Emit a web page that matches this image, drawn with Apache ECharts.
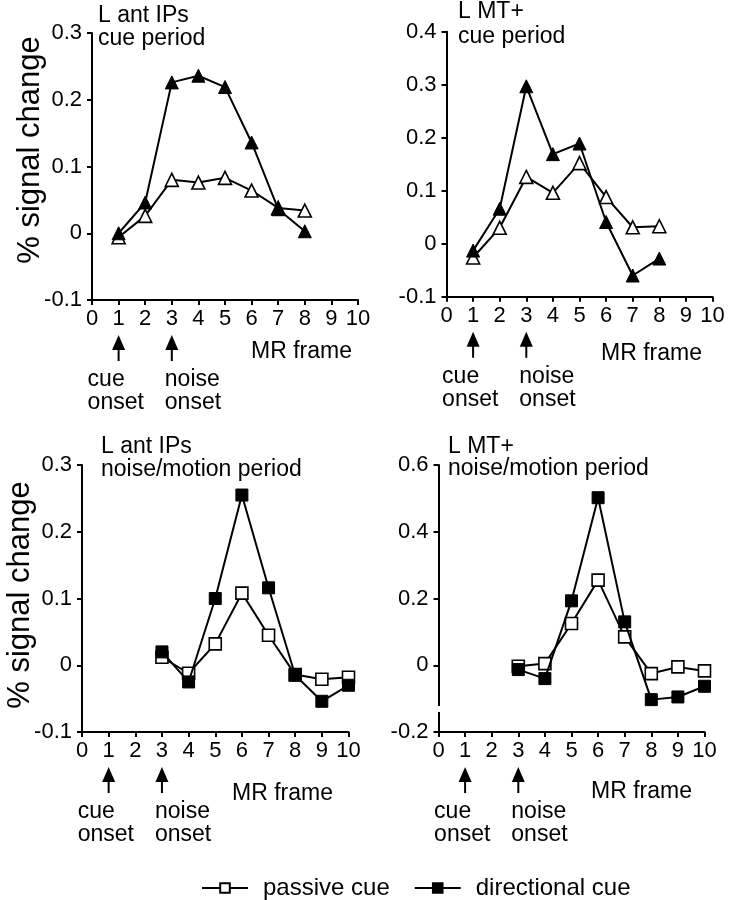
<!DOCTYPE html>
<html><head><meta charset="utf-8">
<script src="https://cdn.jsdelivr.net/npm/echarts@6/dist/echarts.min.js"></script>
<style>html,body{margin:0;padding:0;background:#fff}#c{width:730px;height:900px}</style>
</head><body><div id="c"></div>
<script>
// ---------- data ----------
const cueFrames = [1, 2, 3, 4, 5, 6, 7, 8];
const noiseFrames = [3, 4, 5, 6, 7, 8, 9, 10];
const ipsCuePassive = [-0.006, 0.026, 0.080, 0.076, 0.083, 0.064, 0.038, 0.034];
const ipsCueDirectional = [0.000, 0.046, 0.226, 0.236, 0.219, 0.136, 0.036, 0.003];
const mtCuePassive = [-0.026, 0.030, 0.126, 0.096, 0.152, 0.088, 0.031, 0.033];
const mtCueDirectional = [-0.013, 0.066, 0.297, 0.169, 0.189, 0.041, -0.060, -0.028];
const ipsNoisePassive = [0.012, -0.012, 0.032, 0.108, 0.045, -0.014, -0.021, -0.018];
const ipsNoiseDirectional = [0.020, -0.025, 0.100, 0.255, 0.116, -0.015, -0.054, -0.030];
const mtNoisePassive = [-0.003, 0.005, 0.125, 0.255, 0.085, -0.025, -0.005, -0.017];
const mtNoiseDirectional = [-0.013, -0.040, 0.193, 0.502, 0.130, -0.103, -0.095, -0.063];
const xTicks = [0, 1, 2, 3, 4, 5, 6, 7, 8, 9, 10];
const yTicksIpsCue = [-0.1, 0, 0.1, 0.2, 0.3];
const yTicksMtCue = [-0.1, 0, 0.1, 0.2, 0.3, 0.4];
const yTicksIpsNoise = [-0.1, 0, 0.1, 0.2, 0.3];
const yTicksMtNoise = [-0.2, 0, 0.2, 0.4, 0.6];
const panelTitles = [['L ant IPs', 'cue period'], ['L MT+', 'cue period'],
                     ['L ant IPs', 'noise/motion period'], ['L MT+', 'noise/motion period']];
const seriesNames = ['passive cue', 'directional cue'];
const yAxisName = '% signal change';
const xAxisName = 'MR frame';
const onsetFrames = [1, 3];
const onsetLabels = [['cue', 'onset'], ['noise', 'onset']];

// ---------- layout / style ----------
const FONT = '"Liberation Sans", Arial, Helvetica, sans-serif';
const panels = [
  {frames: cueFrames, passive: ipsCuePassive, directional: ipsCueDirectional, yTicks: yTicksIpsCue, symbol: 'triangle',
   grid: {left: 92, top: 33, width: 266, height: 267}, titleX: 98, titleY: [16, 38.5], mrRight: 352, mrDy: 52, yName: [30, 150]},
  {frames: cueFrames, passive: mtCuePassive, directional: mtCueDirectional, yTicks: yTicksMtCue, symbol: 'triangle',
   grid: {left: 446.5, top: 31.7, width: 266, height: 265}, titleX: 458, titleY: [12, 37], mrRight: 702, mrDy: 57, yName: null},
  {frames: noiseFrames, passive: ipsNoisePassive, directional: ipsNoiseDirectional, yTicks: yTicksIpsNoise, symbol: 'rect',
   grid: {left: 82, top: 465, width: 266.5, height: 267}, titleX: 101, titleY: [447, 470], mrRight: 333, mrDy: 62, yName: [20, 595]},
  {frames: noiseFrames, passive: mtNoisePassive, directional: mtNoiseDirectional, yTicks: yTicksMtNoise, symbol: 'rect',
   grid: {left: 438.5, top: 465, width: 266, height: 267}, titleX: 448, titleY: [447, 469], mrRight: 692, mrDy: 60, yName: null, axisBreak: true}
];

const grids = [], xAxes = [], yAxes = [], seriesByPanel = [];
panels.forEach((p, i) => {
  grids.push(Object.assign({containLabel: false}, p.grid));
  xAxes.push({
    type: 'value', gridIndex: i, min: xTicks[0], max: xTicks[xTicks.length - 1], interval: xTicks[1] - xTicks[0],
    axisLine: {show: true, onZero: false, lineStyle: {color: '#000', width: 2}},
    axisTick: {show: true, length: 5, lineStyle: {color: '#000', width: 2}},
    axisLabel: {color: '#000', fontSize: 22, fontFamily: FONT, margin: 8, showMinLabel: true, showMaxLabel: true},
    splitLine: {show: false}
  });
  const yt = p.yTicks;
  yAxes.push({
    type: 'value', gridIndex: i, min: yt[0], max: yt[yt.length - 1], interval: yt[1] - yt[0],
    axisLine: {show: true, onZero: false, lineStyle: {color: '#000', width: 2}},
    axisTick: {show: true, length: 5, lineStyle: {color: '#000', width: 2}},
    axisLabel: {color: '#000', fontSize: 22, fontFamily: FONT, margin: 10,
      formatter: v => { const r = Math.round(v * 10) / 10; return r === 0 ? '0' : String(r); }},
    splitLine: {show: false}
  });
  const sz = p.symbol === 'triangle' ? [13, 13] : 12;
  seriesByPanel.push([
    {name: seriesNames[0], type: 'line', xAxisIndex: i, yAxisIndex: i, z: 2,
     data: p.frames.map((f, k) => [f, p.passive[k]]),
     symbol: p.symbol, symbolSize: sz, showSymbol: true,
     lineStyle: {color: '#000', width: 2},
     itemStyle: {color: '#fff', borderColor: '#000', borderWidth: 1.6}},
    {name: seriesNames[1], type: 'line', xAxisIndex: i, yAxisIndex: i, z: 3,
     data: p.frames.map((f, k) => [f, p.directional[k]]),
     symbol: p.symbol, symbolSize: sz, showSymbol: true,
     lineStyle: {color: '#000', width: 2},
     itemStyle: {color: '#000', borderColor: '#000', borderWidth: 1}}
  ]);
});
// bottom panels first so the legend takes the square markers
const series = [].concat(seriesByPanel[2], seriesByPanel[3], seriesByPanel[0], seriesByPanel[1]);

const chart = echarts.init(document.getElementById('c'), null, {renderer: 'canvas'});
chart.setOption({
  animation: false,
  backgroundColor: '#fff',
  grid: grids, xAxis: xAxes, yAxis: yAxes, series: series,
  legend: {
    data: seriesNames, left: 196, top: 871, itemWidth: 46, itemHeight: 12, itemGap: 24,
    selectedMode: false,
    textStyle: {fontSize: 24, color: '#000', fontFamily: FONT, padding: [0, 0, 0, 10]}
  }
});

// ---------- annotations (positions from the axes) ----------
const graphics = [];
const txt = (text, x, y, size, align, rot) => graphics.push({
  type: 'text', x: x, y: y, rotation: rot || 0, silent: true,
  style: {text: text, font: size + 'px ' + FONT, fill: '#000', textAlign: align, textVerticalAlign: 'middle'}
});
panels.forEach((p, i) => {
  const base = p.grid.top + p.grid.height;
  txt(panelTitles[i][0], p.titleX, p.titleY[0], 23, 'left');
  txt(panelTitles[i][1], p.titleX, p.titleY[1], 23, 'left');
  txt(xAxisName, p.mrRight, base + p.mrDy, 23, 'right');
  if (p.yName) txt(yAxisName, p.yName[0], p.yName[1], 31, 'center', Math.PI / 2);
  onsetFrames.forEach((f, j) => {
    const x = chart.convertToPixel({xAxisIndex: i}, f);
    graphics.push({type: 'polygon', silent: true,
      shape: {points: [[x, base + 35], [x - 6.5, base + 50], [x + 6.5, base + 50]]}, style: {fill: '#000'}});
    graphics.push({type: 'line', silent: true,
      shape: {x1: x, y1: base + 48, x2: x, y2: base + 61}, style: {stroke: '#000', lineWidth: 2}});
    const lx = j === 0 ? x - 31 : x - 7;
    txt(onsetLabels[j][0], lx, base + 80, 23, 'left');
    txt(onsetLabels[j][1], lx, base + 103, 23, 'left');
  });
  if (p.axisBreak) {
    const ax = p.grid.left;
    graphics.push({type: 'rect', silent: true, z: 100,
      shape: {x: ax - 2, y: base - 26, width: 4, height: 6}, style: {fill: '#fff'}});
  }
});
chart.setOption({graphic: graphics});
</script>
</body></html>
